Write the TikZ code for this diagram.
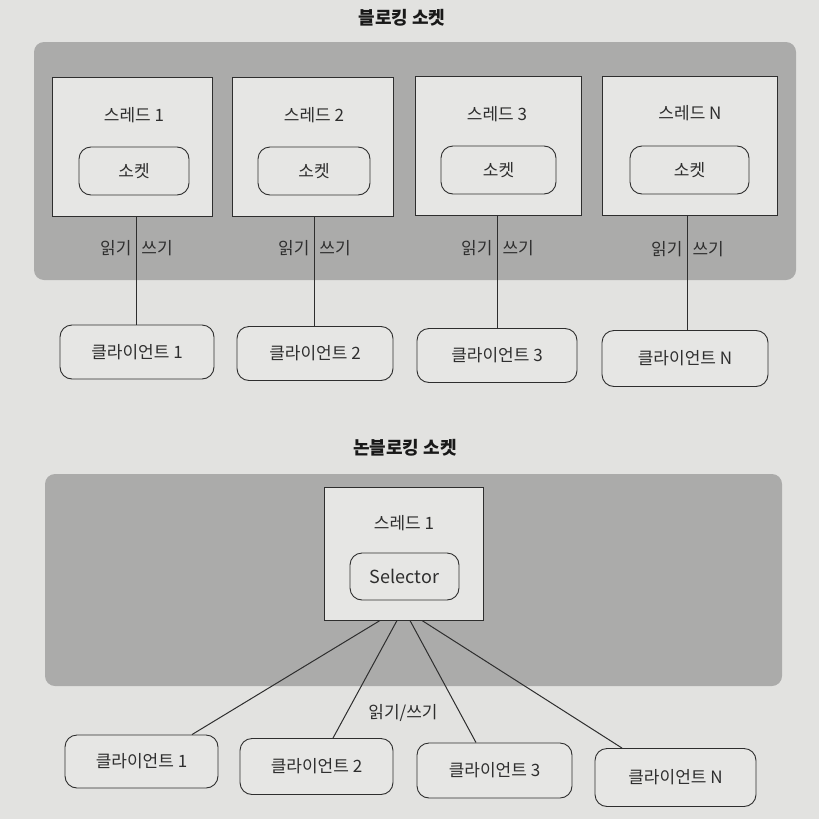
\documentclass[tikz,border=0pt]{standalone}
\usepackage{fontspec}
\setmainfont{Noto Sans CJK KR}
\definecolor{pagebg}{HTML}{E2E2E0}
\definecolor{panelgray}{HTML}{ABABAA}
\definecolor{boxfill}{HTML}{E6E6E4}
\definecolor{ink}{HTML}{2E2E2E}
\begin{document}
\begin{tikzpicture}[x=1pt,y=-1pt,
  panel/.style={fill=panelgray,draw=none,rounded corners=10pt},
  threadbox/.style={draw=ink,line width=1pt,fill=boxfill,minimum height=139pt,inner sep=0pt},
  sockbox/.style={draw=ink,line width=0.9pt,fill=boxfill,rounded corners=12pt,minimum height=48pt,inner sep=0pt,text=ink,font=\fontsize{17}{20}\selectfont},
  clientbox/.style={draw=ink,line width=0.9pt,fill=boxfill,rounded corners=12pt,minimum height=54pt,inner sep=0pt,text=ink,font=\fontsize{17}{20}\selectfont},
  lbl/.style={text=ink,inner sep=0pt,font=\fontsize{17}{20}\selectfont},
  ttl/.style={text=black!90,inner sep=0pt,font=\fontsize{18}{21}\selectfont\bfseries},
  conn/.style={draw=ink,line width=1pt}]
\useasboundingbox (0,0) rectangle (819,819);
\fill[pagebg] (0,0) rectangle (819,819);

% ---------- Blocking socket ----------
\node[ttl] (title1) at (402,18) {블로킹 소켓};
\path[panel] (34,42) rectangle (796,280);

\node[threadbox,minimum width=160pt] (t1) at (132,146.5) {};
\node[threadbox,minimum width=161pt] (t2) at (312.5,146.5) {};
\node[threadbox,minimum width=166pt] (t3) at (498,146) {};
\node[threadbox,minimum width=175pt] (tN) at (689.5,146) {};

\node[lbl] (tl1) at (134,115) {스레드 1};
\node[lbl] (tl2) at (314,115) {스레드 2};
\node[lbl] (tl3) at (497,114) {스레드 3};
\node[lbl] (tlN) at (690,113) {스레드 N};

\node[sockbox,minimum width=110pt] (s1) at (134,171) {소켓};
\node[sockbox,minimum width=112pt] (s2) at (314,171) {소켓};
\node[sockbox,minimum width=115pt] (s3) at (498.5,170) {소켓};
\node[sockbox,minimum width=119pt] (sN) at (689.5,170) {소켓};

\node[clientbox,minimum width=154pt] (c1) at (137,352) {클라이언트 1};
\node[clientbox,minimum width=156pt] (c2) at (315,353.5) {클라이언트 2};
\node[clientbox,minimum width=160pt] (c3) at (497,355.5) {클라이언트 3};
\node[clientbox,minimum width=166pt,minimum height=56pt] (cN) at (685,358.5) {클라이언트 N};

\coordinate (x1) at (136,0);
\coordinate (x2) at (314,0);
\coordinate (x3) at (497,0);
\coordinate (xN) at (687,0);
\draw[conn] (t1.south -| x1) -- (c1.north -| x1);
\draw[conn] (t2.south -| x2) -- (c2.north -| x2);
\draw[conn] (t3.south -| x3) -- (c3.north -| x3);
\draw[conn] (tN.south -| xN) -- (cN.north -| xN);

\node[lbl] (rw1) at (136.5,248) {읽기\hspace{10pt}쓰기};
\node[lbl] (rw2) at (314.5,248) {읽기\hspace{10pt}쓰기};
\node[lbl] (rw3) at (497.5,248) {읽기\hspace{10pt}쓰기};
\node[lbl] (rwN) at (687.5,249) {읽기\hspace{10pt}쓰기};

% ---------- Non-blocking socket ----------
\node[ttl] (title2) at (405,448) {논블로킹 소켓};
\path[panel] (45,474) rectangle (782,686);

\node[threadbox,minimum width=159pt,minimum height=133pt] (t) at (403.5,553.5) {};
\node[lbl] (tl) at (404,523) {스레드 1};
\node[sockbox,minimum width=109pt,minimum height=47pt,font=\fontsize{18}{21}\selectfont] (sel) at (404.5,576.5) {Selector};

\node[clientbox,minimum width=153pt,minimum height=53pt] (b1) at (141.5,761.5) {클라이언트 1};
\node[clientbox,minimum width=153pt,minimum height=56pt] (b2) at (316.5,766.5) {클라이언트 2};
\node[clientbox,minimum width=155pt,minimum height=55pt] (b3) at (494.5,770.5) {클라이언트 3};
\node[clientbox,minimum width=161pt,minimum height=58pt] (bN) at (675.5,777.5) {클라이언트 N};

\draw[conn] ([xshift=-23.5pt]t.south) -- ([xshift=50.5pt]b1.north);
\draw[conn] ([xshift=-6.5pt]t.south) -- ([xshift=16.5pt]b2.north);
\draw[conn] ([xshift=6.5pt]t.south) -- ([xshift=-18.5pt]b3.north);
\draw[conn] ([xshift=18.5pt]t.south) -- ([xshift=-53.5pt]bN.north);

\node[lbl] (rw) at (403,713) {읽기/쓰기};
\end{tikzpicture}
\end{document}
